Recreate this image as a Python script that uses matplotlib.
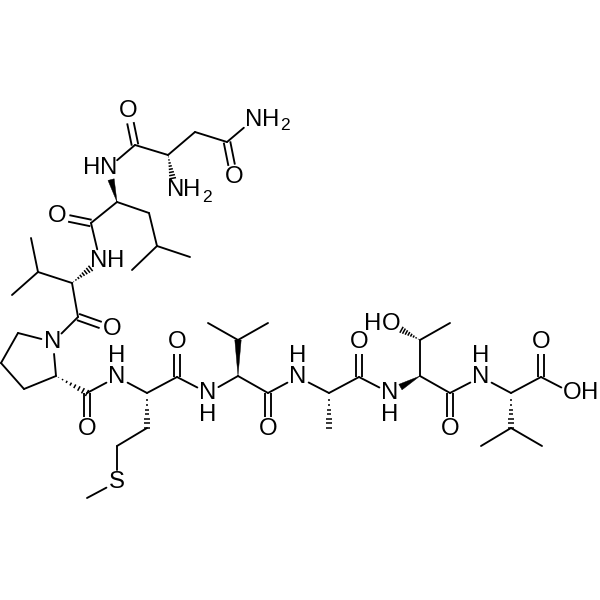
import numpy as np
import matplotlib
matplotlib.use("Agg")
import matplotlib.pyplot as plt
from matplotlib.patches import Polygon

plt.rcParams['font.family'] = ['Liberation Sans', 'DejaVu Sans']

# atom positions, in image pixels, one dict per residue
asn_atoms = {"O1": (128, 111), "C1": (135, 145), "CA1": (168, 155), "CB1": (195, 132),
             "CG1": (227, 142), "NG1": (253, 120), "OG1": (234, 177), "N1": (175, 190)}
leu_atoms = {"N2": (108, 168), "CA2": (117, 202), "C2": (91, 223), "O2": (57, 216),
             "CB2": (149, 213), "CG2": (157, 246), "CD2a": (190, 257), "CD2b": (132, 270)}
val1_atoms = {"N3": (100, 261), "CA3": (72, 283), "CB3": (38, 272), "CG3a": (31, 238),
              "CG3b": (12, 295), "C3": (78, 317), "O3": (112, 329)}
pro_atoms = {"N4": (53, 342), "CD4": (18, 333), "CG4": (1, 363), "CB4": (24, 389),
             "CA4": (56, 376), "C4": (87, 393), "O4": (87, 429)}
met_atoms = {"N5": (117, 377), "CA5": (147, 393), "C5": (177, 377), "O5": (177, 342),
             "CB5": (147, 428), "CG5": (117, 446), "S5": (117, 482), "CE5": (87, 498)}
val2_atoms = {"N6": (208, 393), "CA6": (238, 376), "CB6": (238, 340), "CG6a": (208, 323),
              "CG6b": (268, 323), "C6": (268, 393), "O6": (268, 429)}
ala_atoms = {"N7": (298, 377), "CA7": (329, 393), "CB7": (329, 428), "C7": (359, 377),
             "O7": (359, 342)}
thr_atoms = {"N8": (390, 393), "CA8": (420, 376), "CB8": (420, 340), "CG8": (450, 323),
             "OG8": (391, 324), "C8": (450, 393), "O8": (450, 429)}
val3_atoms = {"N9": (481, 377), "CA9": (511, 393), "C9": (541, 377), "O9": (541, 342),
              "OH9": (572, 393), "CB9": (511, 428), "CG9a": (481, 446), "CG9b": (542, 446)}

atoms = {}
for part in [asn_atoms, leu_atoms, val1_atoms, pro_atoms, met_atoms,
             val2_atoms, ala_atoms, thr_atoms, val3_atoms]:
    atoms.update(part)

single_bonds = [("C1", "CA1"), ("CA1", "CB1"), ("CB1", "CG1"), ("CG1", "NG1"), ("C1", "N2"),
                ("CA2", "C2"), ("CA2", "CB2"), ("CB2", "CG2"), ("CG2", "CD2a"), ("CG2", "CD2b"),
                ("C2", "N3"), ("CA3", "CB3"), ("CB3", "CG3a"), ("CB3", "CG3b"), ("CA3", "C3"),
                ("C3", "N4"), ("N4", "CD4"), ("CD4", "CG4"), ("CG4", "CB4"), ("CB4", "CA4"),
                ("CA4", "N4"), ("C4", "N5"), ("N5", "CA5"), ("CA5", "C5"), ("C5", "N6"),
                ("CB5", "CG5"), ("CG5", "S5"), ("S5", "CE5"), ("N6", "CA6"), ("CB6", "CG6a"),
                ("CB6", "CG6b"), ("CA6", "C6"), ("C6", "N7"), ("N7", "CA7"), ("CA7", "C7"),
                ("C7", "N8"), ("CA8", "CB8"), ("CB8", "CG8"), ("CA8", "C8"), ("C8", "N9"),
                ("N9", "CA9"), ("CA9", "C9"), ("C9", "OH9"), ("CB9", "CG9a"), ("CB9", "CG9b")]
double_bonds = [("C1", "O1"), ("CG1", "OG1"), ("C2", "O2"), ("C3", "O3"), ("C4", "O4"),
                ("C5", "O5"), ("C6", "O6"), ("C7", "O7"), ("C8", "O8"), ("C9", "O9")]
# narrow end first
wedge_bonds = [("CA2", "N2"), ("CA6", "CB6"), ("CA8", "N8")]
hash_bonds = [("CA1", "N1"), ("CA3", "N3"), ("CA4", "C4"), ("CA5", "CB5"),
              ("CA7", "CB7"), ("CB8", "OG8"), ("CA9", "CB9")]

# the letters, each one placed on its own
label_text = ["O", "N", "H", "O", "N", "H", "H", "N", "O", "N", "H", "O", "N", "O",
              "O", "N", "H", "O", "S", "N", "H", "O", "N", "H", "O", "N", "H",
              "O", "H", "N", "H", "O", "O", "H"]
label_x = [128, 254, 271, 234, 176, 192, 92, 109, 57, 99, 116, 112, 53, 87,
           177, 117, 117, 268, 117, 208, 208, 359, 298, 298, 450, 390, 390,
           391, 373, 481, 481, 541, 572, 590]
label_y = [111, 120, 120, 177, 190, 190, 168, 168, 216, 261, 261, 329, 342, 429,
           342, 377, 356, 429, 482, 393, 415, 342, 377, 356, 429, 393, 415,
           324, 324, 377, 356, 342, 393, 393]
sub_text = ["2", "2"]
sub_x = [285, 207]
sub_y = [126, 197]

# atoms that carry a letter, bonds stop short of them
hetero = {"O1", "NG1", "OG1", "N1", "N2", "O2", "N3", "O3", "N4", "O4", "N5", "O5", "S5", "N6",
          "O6", "N7", "O7", "N8", "OG8", "O8", "N9", "O9", "OH9"}
label_gap = 12
bond_lw = 1.35
double_gap = 3.3


def bond_ends(a, b):
    p = np.array(atoms[a], dtype=float)
    q = np.array(atoms[b], dtype=float)
    unit = (q - p) / np.linalg.norm(q - p)
    if a in hetero:
        p = p + unit * label_gap
    if b in hetero:
        q = q - unit * label_gap
    return p, q, unit


fig = plt.figure(figsize=(6, 6), dpi=100)
ax = fig.add_axes([0, 0, 1, 1])
ax.set_xlim(0, 600)
ax.set_ylim(600, 0)
ax.axis("off")

for a, b in single_bonds:
    p, q, unit = bond_ends(a, b)
    ax.plot([p[0], q[0]], [p[1], q[1]], color="black", lw=bond_lw, solid_capstyle="round")

for a, b in double_bonds:
    p, q, unit = bond_ends(a, b)
    normal = np.array([-unit[1], unit[0]])
    for side in [-1, 1]:
        s = p + side * double_gap * normal
        e = q + side * double_gap * normal
        ax.plot([s[0], e[0]], [s[1], e[1]], color="black", lw=bond_lw, solid_capstyle="butt")

for a, b in wedge_bonds:
    p, q, unit = bond_ends(a, b)
    normal = np.array([-unit[1], unit[0]])
    ax.add_patch(Polygon([p, q + 3.2 * normal, q - 3.2 * normal], closed=True,
                         facecolor="black", edgecolor="black", lw=0.3))

for a, b in hash_bonds:
    p, q, unit = bond_ends(a, b)
    normal = np.array([-unit[1], unit[0]])
    for t in np.linspace(0.08, 1.0, 8):
        c = p + (q - p) * t
        half = 3.4 * t
        ax.plot([c[0] - half * normal[0], c[0] + half * normal[0]],
                [c[1] - half * normal[1], c[1] + half * normal[1]],
                color="black", lw=1.1, solid_capstyle="butt")

for t, x, y in zip(label_text, label_x, label_y):
    ax.text(x, y, t, fontsize=17.3, color="black", ha="center", va="center")
for t, x, y in zip(sub_text, sub_x, sub_y):
    ax.text(x, y, t, fontsize=12.5, color="black", ha="center", va="center")

fig.savefig("out.png", dpi=100, facecolor="white")
